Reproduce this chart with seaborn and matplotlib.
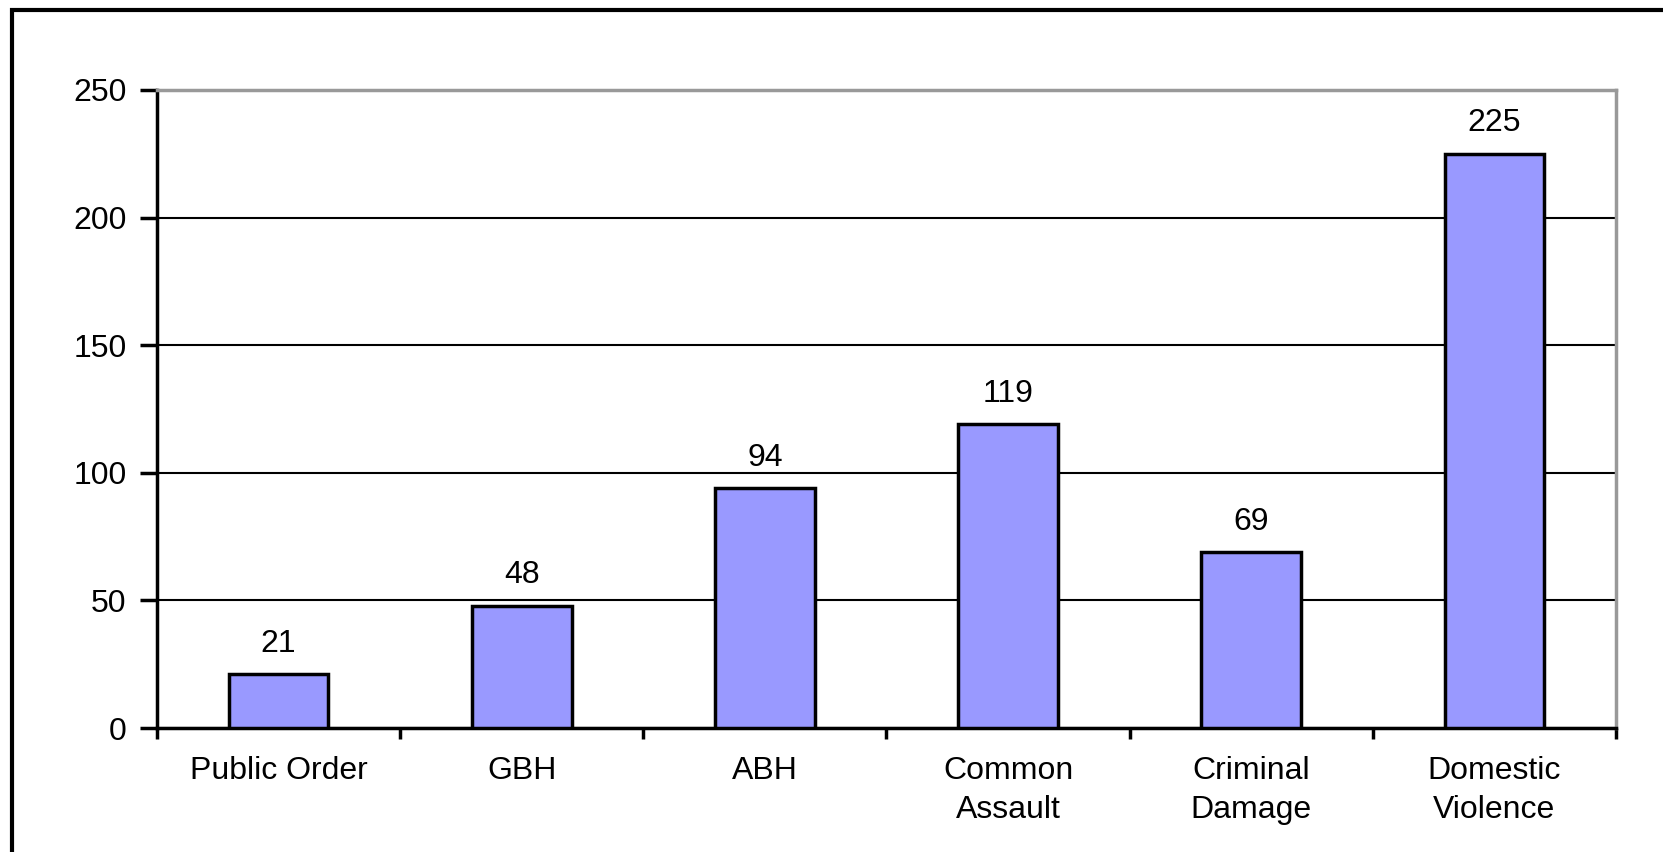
import matplotlib
matplotlib.use("Agg")
import matplotlib.pyplot as plt
import numpy as np
import pandas as pd
import seaborn as sns

categories = ["Public Order", "GBH", "ABH", "Common\nAssault", "Criminal\nDamage", "Domestic\nViolence"]
counts = [21, 48, 94, 119, 69, 225]
y_ticks = [0, 50, 100, 150, 200, 250]

df = pd.DataFrame({"category": categories, "count": counts})

sns.set_style("white")
plt.rcParams["font.family"] = ["Liberation Sans", "DejaVu Sans"]
plt.rcParams["text.color"] = "black"
plt.rcParams["xtick.color"] = "black"
plt.rcParams["ytick.color"] = "black"
plt.rcParams["xtick.labelcolor"] = "black"
plt.rcParams["ytick.labelcolor"] = "black"

fig = plt.figure(figsize=(16.63, 8.52), dpi=100)
ax = fig.add_axes([0.0944, 0.1455, 0.8773, 0.749])

sns.barplot(data=df, x="category", y="count", color="#9999FF", saturation=1,
            width=0.41, edgecolor="black", linewidth=2.5, ax=ax, zorder=3)

ax.set_ylim(0, 250)
ax.set_xlim(-0.5, len(categories) - 0.5)
ax.set_yticks(y_ticks)
ax.yaxis.grid(True, color="black", linewidth=1.5, zorder=0)
ax.set_axisbelow(True)
ax.set_xlabel("")
ax.set_ylabel("")

# category boundary ticks
ax.set_xticks(np.arange(len(categories)))
ax.set_xticklabels(categories, fontsize=23, linespacing=1.4)
ax.set_xticks(np.arange(len(categories) + 1) - 0.5, minor=True)
ax.tick_params(axis="x", which="major", bottom=True, length=0, pad=20)
ax.tick_params(axis="x", which="minor", bottom=True, length=8, width=2.5,
               color="black", direction="out")
ax.tick_params(axis="y", left=True, length=12, width=2.5, color="black",
               direction="out", labelsize=23, pad=10)

for side in ["left", "bottom"]:
    ax.spines[side].set_color("black")
    ax.spines[side].set_linewidth(2.5)
for side in ["top", "right"]:
    ax.spines[side].set_visible(True)
    ax.spines[side].set_color("#999999")
    ax.spines[side].set_linewidth(2.5)

for i, v in enumerate(counts):
    ax.text(i, v + 6, str(v), ha="center", va="bottom", fontsize=23)

# outer frame (cut off at right and bottom)
frame = plt.Rectangle((12 / 1663, -0.05), 1.2, 1 - 10 / 852 + 0.05,
                      transform=fig.transFigure, fill=False,
                      edgecolor="black", linewidth=3, clip_on=False)
fig.patches.append(frame)

fig.savefig("out.png", dpi=100)
